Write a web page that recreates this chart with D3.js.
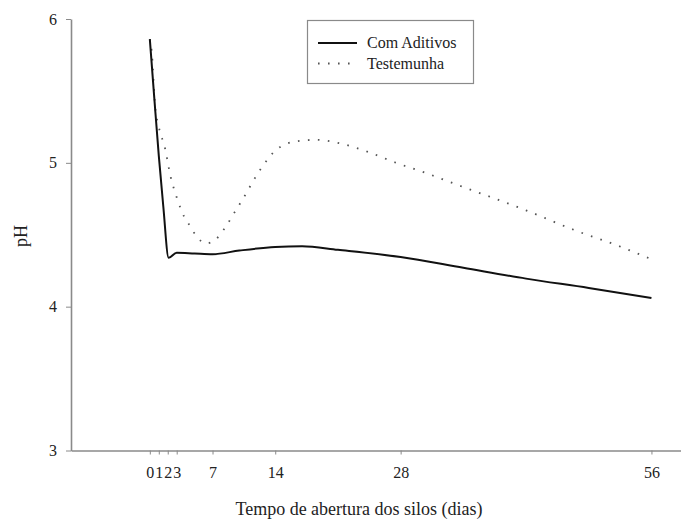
<!DOCTYPE html>
<html>
<head>
<meta charset="utf-8">
<script src="https://cdn.jsdelivr.net/npm/d3@7"></script>
<style>
  body { margin: 0; background: #fff; }
  svg text { font-family: "Liberation Serif", "Times New Roman", serif; fill: #222; }
  .axis path, .axis line { stroke: #8a8a8a; }
</style>
</head>
<body>
<svg id="chart" width="681" height="520"></svg>
<script>
'use strict';

// Values.
const comDays = [0, 0.5, 1, 1.5, 2.1, 3, 5, 7, 10, 14, 17, 21, 28, 35, 42, 49, 56];
const comPH = [5.86, 5.45, 5.05, 4.7, 4.34, 4.375, 4.37, 4.365, 4.39, 4.415, 4.42, 4.395, 4.345, 4.27, 4.195, 4.13, 4.06];

const testDays = [0, 0.2, 0.6, 1, 1.7, 2.3, 3, 3.8, 4.5, 5.2, 6.3, 7.4, 8.3, 9.6, 10.3, 12.3, 14.1, 16.4, 18.6, 20.9, 24.2, 27.5, 30.8, 34.2, 42, 47.5, 52, 56];
const testPH = [5.86, 5.78, 5.39, 5.25, 5.1, 4.91, 4.76, 4.63, 4.56, 4.49, 4.44, 4.47, 4.54, 4.67, 4.74, 4.95, 5.09, 5.15, 5.16, 5.14, 5.08, 5.0, 4.93, 4.85, 4.67, 4.53, 4.43, 4.33];

const xTicks = [0, 1, 2, 3, 7, 14, 28, 56];
const yTicks = [3, 4, 5, 6];
const seriesNames = ['Com Aditivos', 'Testemunha'];

const fontFamily = '"Liberation Serif", "Times New Roman", serif';
const svg = d3.select('#chart');

// Axis spans from the y axis out to the right edge; day 0 sits well inside.
const x = d3.scaleLinear().domain([-8.8, 59.3]).range([71, 681]);
const y = d3.scaleLinear().domain([3, 6]).range([450.5, 19]);

const xAxis = svg.append('g')
  .classed('axis', true)
  .attr('transform', `translate(0,${y(3)})`)
  .call(d3.axisBottom(x).tickValues(xTicks).tickSize(4).tickSizeOuter(0).tickPadding(12));

const yAxis = svg.append('g')
  .classed('axis', true)
  .attr('transform', `translate(${x(-8.8)},0)`)
  .call(d3.axisLeft(y).tickValues(yTicks).tickFormat(d3.format('d'))
    .tickSize(5).tickSizeOuter(0).tickPadding(9));

[xAxis, yAxis].forEach(a => {
  a.attr('font-family', fontFamily).attr('font-size', 16);
  a.select('.domain').attr('stroke-width', 1.6);
  a.selectAll('text').attr('fill', '#222');
});

// Axis titles.
svg.append('text')
  .attr('x', 359)
  .attr('y', 515)
  .attr('text-anchor', 'middle')
  .style('font-size', '18px')
  .text('Tempo de abertura dos silos (dias)');

svg.append('text')
  .attr('transform', 'translate(27,236) rotate(-90)')
  .attr('text-anchor', 'middle')
  .style('font-size', '18px')
  .text('pH');

const line = d3.line()
  .x(d => x(d[0]))
  .y(d => y(d[1]))
  .curve(d3.curveMonotoneX);

const testData = testDays.map((d, i) => [d, testPH[i]]);
const comData = comDays.map((d, i) => [d, comPH[i]]);

svg.append('path')
  .datum(testData)
  .attr('d', line)
  .attr('fill', 'none')
  .attr('stroke', '#555')
  .attr('stroke-width', 1.8)
  .attr('stroke-dasharray', '1.6,8.4');

svg.append('path')
  .datum(comData)
  .attr('d', line)
  .attr('fill', 'none')
  .attr('stroke', '#111')
  .attr('stroke-width', 2);

// Legend box.
const legend = svg.append('g');
legend.append('rect')
  .attr('x', 307.5)
  .attr('y', 20.5)
  .attr('width', 166)
  .attr('height', 63)
  .attr('fill', '#fff')
  .attr('stroke', '#8a8a8a')
  .attr('stroke-width', 1.2);

seriesNames.forEach((name, i) => {
  const ly = 43 + i * 20.5;
  legend.append('line')
    .attr('x1', 318)
    .attr('x2', 357)
    .attr('y1', ly)
    .attr('y2', ly)
    .attr('stroke', i === 0 ? '#111' : '#555')
    .attr('stroke-width', i === 0 ? 2 : 1.8)
    .attr('stroke-dasharray', i === 0 ? null : '1.6,8.4');
  legend.append('text')
    .attr('x', 367)
    .attr('y', ly + 5)
    .style('font-size', '16px')
    .text(name);
});
</script>
</body>
</html>
